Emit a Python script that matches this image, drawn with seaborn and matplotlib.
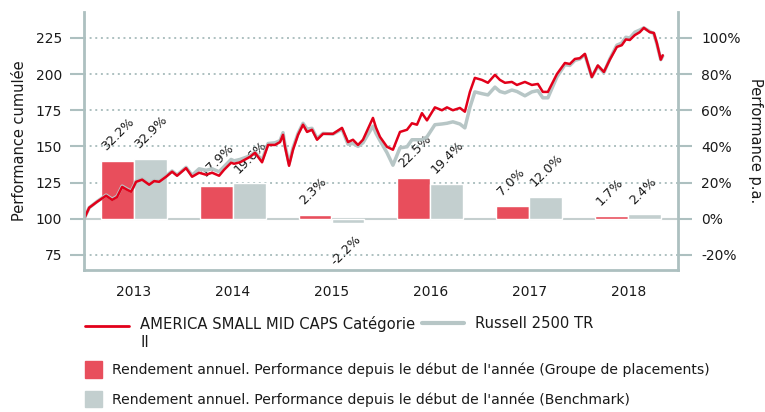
import numpy as np
import pandas as pd
import matplotlib
matplotlib.use('Agg')
import matplotlib.pyplot as plt
import seaborn as sns
from matplotlib.patches import Patch
from matplotlib.lines import Line2D
from matplotlib.legend_handler import HandlerLine2D
from matplotlib.ticker import FixedLocator, FuncFormatter, NullFormatter

# ---- data ----
years = [2013, 2014, 2015, 2016, 2017, 2018]
fund_annual = [32.2, 17.9, 2.3, 22.5, 7.0, 1.7]
bench_annual = [32.9, 19.6, -2.2, 19.4, 12.0, 2.4]

# time in decimal years
t = [2013.000, 2013.051, 2013.131, 2013.222, 2013.283, 2013.333, 2013.384, 2013.434,
     2013.475, 2013.525, 2013.586, 2013.657, 2013.707, 2013.758, 2013.828, 2013.889,
     2013.939, 2014.030, 2014.091, 2014.162, 2014.232, 2014.293, 2014.364, 2014.414,
     2014.485, 2014.515, 2014.576, 2014.677, 2014.727, 2014.798, 2014.859, 2014.929,
     2014.980, 2015.010, 2015.030, 2015.071, 2015.111, 2015.162, 2015.212, 2015.253,
     2015.303, 2015.354, 2015.414, 2015.515, 2015.606, 2015.667, 2015.717, 2015.768,
     2015.818, 2015.919, 2015.950, 2015.990, 2016.061, 2016.121, 2016.192, 2016.263,
     2016.313, 2016.364, 2016.414, 2016.465, 2016.545, 2016.616, 2016.667, 2016.727,
     2016.798, 2016.848, 2016.899, 2016.949, 2017.020, 2017.081, 2017.152, 2017.202,
     2017.253, 2017.323, 2017.374, 2017.455, 2017.525, 2017.586, 2017.636, 2017.687,
     2017.778, 2017.859, 2017.909, 2017.960, 2018.010, 2018.061, 2018.131, 2018.192,
     2018.253, 2018.313, 2018.384, 2018.434, 2018.475, 2018.515, 2018.566, 2018.616,
     2018.657, 2018.717, 2018.758, 2018.788, 2018.828, 2018.848]

fund_cum = [100.0, 107.6, 111.7, 115.9, 113.0, 115.0, 122.0, 120.0,
            118.6, 125.5, 127.0, 123.5, 126.0, 125.5, 129.0, 132.5,
            129.7, 135.0, 129.0, 131.8, 130.4, 131.8, 129.7, 133.8,
            138.7, 138.0, 139.0, 142.8, 145.6, 139.0, 151.0, 151.0,
            153.0, 158.0, 149.7, 136.6, 147.7, 158.0, 165.0, 160.0,
            161.5, 154.6, 158.7, 158.7, 162.8, 153.0, 154.6, 151.0,
            154.6, 169.7, 163.0, 156.6, 149.7, 147.7, 160.0, 161.5,
            166.0, 165.0, 173.0, 168.0, 177.0, 175.0, 177.0, 175.0,
            176.6, 174.0, 187.7, 197.4, 196.0, 194.0, 199.5, 196.0,
            194.0, 194.6, 192.5, 194.6, 192.5, 193.2, 187.7, 187.7,
            200.0, 207.7, 207.0, 210.5, 211.0, 214.0, 198.0, 206.0,
            201.5, 210.0, 218.8, 220.0, 224.0, 223.6, 227.0, 229.0,
            232.0, 229.0, 228.5, 221.6, 210.0, 213.0]

bench_cum = [100.0, 107.6, 111.9, 116.3, 113.5, 115.5, 122.5, 120.5,
             119.0, 126.0, 127.5, 124.0, 126.5, 126.0, 129.5, 133.0,
             130.2, 135.5, 130.0, 134.5, 133.5, 134.5, 132.5, 136.0,
             141.0, 140.0, 141.0, 143.5, 146.0, 140.5, 152.0, 152.5,
             154.0, 159.5, 151.0, 138.0, 149.0, 159.0, 166.0, 162.0,
             162.5, 155.5, 159.0, 158.5, 162.0, 151.5, 152.0, 150.0,
             152.5, 164.0, 159.0, 154.0, 145.6, 137.0, 149.0, 149.7,
             154.6, 154.6, 154.6, 156.6, 165.0, 165.5, 166.0, 167.0,
             165.5, 162.8, 177.0, 187.7, 186.5, 185.6, 191.0, 188.0,
             187.0, 189.0, 188.0, 185.0, 187.7, 188.6, 183.6, 183.6,
             198.0, 206.5, 206.0, 209.5, 210.5, 213.5, 198.0, 205.5,
             201.0, 210.5, 220.0, 221.5, 225.5, 225.0, 229.0, 230.5,
             232.0, 229.5, 228.0, 221.0, 210.0, 212.5]

fund_name = 'AMERICA SMALL MID CAPS Catégorie\nII'
bench_name = 'Russell 2500 TR'
bar_fund_name = "Rendement annuel. Performance depuis le début de l'année (Groupe de placements)"
bar_bench_name = "Rendement annuel. Performance depuis le début de l'année (Benchmark)"

RED_LINE = '#e2001a'
GREY_LINE = '#b7c6c6'
RED_BAR = '#e84e5c'
GREY_BAR = '#c3cfcf'
AXIS_C = '#adc0c0'
TEXT_C = '#1a1a1a'


class HandlerLineUp(HandlerLine2D):
    # legend line that sits on the first line of a two-line label
    def __init__(self, dy, **kw):
        super().__init__(**kw)
        self.dy = dy

    def create_artists(self, legend, orig_handle, xdescent, ydescent,
                       width, height, fontsize, trans):
        arts = super().create_artists(legend, orig_handle, xdescent, ydescent,
                                      width, height, fontsize, trans)
        for a in arts:
            a.set_ydata(np.asarray(a.get_ydata()) + self.dy)
        return arts


sns.set_style('white')
plt.rcParams['font.family'] = ['DejaVu Sans']
plt.rcParams['axes.unicode_minus'] = False

fig = plt.figure(figsize=(7.65, 4.12), dpi=100)
ax = fig.add_axes([0.110, 0.345, 0.776, 0.626])
ax2 = ax.twinx()

# ---- annual bars (right axis) ----
bars = pd.DataFrame({
    'mid': [y + 0.5 for y in years] * 2,
    'value': fund_annual + bench_annual,
    'series': ['fund'] * len(years) + ['bench'] * len(years),
})
sns.barplot(data=bars, x='mid', y='value', hue='series', native_scale=True,
            width=2 / 3, palette=[RED_BAR, GREY_BAR], saturation=1,
            errorbar=None, legend=False, ax=ax2, zorder=2)

for yr, fv, bv in zip(years, fund_annual, bench_annual):
    for left, v in [(yr + 0.5 - 1 / 3, fv), (yr + 0.5, bv)]:
        if v >= 0:
            ax2.annotate(f'{v:.1f}%', xy=(left, v), xytext=(5.5, 5.5),
                         textcoords='offset points', rotation=45,
                         rotation_mode='anchor', ha='left', va='bottom',
                         fontsize=9.2, color=TEXT_C, zorder=3)
        else:
            ax2.annotate(f'{v:.1f}%', xy=(left + 1 / 3, v), xytext=(-7, -7),
                         textcoords='offset points', rotation=45,
                         rotation_mode='anchor', ha='right', va='top',
                         fontsize=9.2, color=TEXT_C, zorder=3)

ax2.set_ylim(-28.3, 114.4)
ax2.yaxis.set_major_locator(FixedLocator([-20, 0, 20, 40, 60, 80, 100]))
ax2.yaxis.set_major_formatter(FuncFormatter(lambda v, p: f'{v:.0f}%'))
ax2.set_axisbelow(True)
ax2.yaxis.grid(True, linestyle=(0, (1, 1.9)), color=AXIS_C, lw=1.4)
ax2.axhline(0, color='#c5cfcf', lw=1.5, zorder=1)
ax2.set_ylabel('Performance p.a.', rotation=270, labelpad=16, fontsize=10.5, color=TEXT_C)
ax2.set_xlabel('')

# ---- cumulative lines (left axis, on top) ----
ax.set_zorder(ax2.get_zorder() + 1)
ax.patch.set_visible(False)
sns.lineplot(x=t, y=bench_cum, ax=ax, color=GREY_LINE, lw=2.5, sort=False)
sns.lineplot(x=t, y=fund_cum, ax=ax, color=RED_LINE, lw=1.8, sort=False)

ax.set_ylim(64.6, 243)
ax.yaxis.set_major_locator(FixedLocator([75, 100, 125, 150, 175, 200, 225]))
ax.set_ylabel('Performance cumulée', fontsize=10.5, color=TEXT_C, labelpad=6)

ax.set_xlim(2013, 2019)
ax.xaxis.set_major_locator(FixedLocator(list(range(2013, 2020))))
ax.xaxis.set_major_formatter(NullFormatter())
ax.xaxis.set_minor_locator(FixedLocator([y + 0.5 for y in years]))
ax.xaxis.set_minor_formatter(FuncFormatter(lambda v, p: f'{int(v)}'))
ax.tick_params(axis='x', which='major', direction='out', length=8, width=1.5, color=AXIS_C)
ax.tick_params(axis='x', which='minor', length=0, pad=11, labelsize=10, labelcolor=TEXT_C)
ax.tick_params(axis='y', direction='out', length=10, width=1.5, color=AXIS_C,
               labelsize=10, labelcolor=TEXT_C, pad=6)
ax2.tick_params(axis='y', direction='out', length=10, width=1.5, color=AXIS_C,
                labelsize=10, labelcolor=TEXT_C, pad=7)

for a in (ax, ax2):
    for s in a.spines.values():
        s.set_visible(False)
for s in ('left', 'bottom'):
    ax.spines[s].set_visible(True)
    ax.spines[s].set_color(AXIS_C)
    ax.spines[s].set_linewidth(2)
ax2.spines['right'].set_visible(True)
ax2.spines['right'].set_color(AXIS_C)
ax2.spines['right'].set_linewidth(2)

# ---- legends ----
fund_handle = Line2D([], [], color=RED_LINE, lw=2)
leg1 = fig.legend([fund_handle], [fund_name], loc='upper left',
                  bbox_to_anchor=(0.111, 0.232), frameon=False, borderpad=0,
                  borderaxespad=0, handlelength=3.0, handletextpad=0.75,
                  fontsize=10.6, labelcolor=TEXT_C,
                  handler_map={fund_handle: HandlerLineUp(5.5)})
bench_handle = Line2D([], [], color=GREY_LINE, lw=3)
leg1b = fig.legend([bench_handle], [bench_name], loc='upper left',
                   bbox_to_anchor=(0.552, 0.232), frameon=False, borderpad=0,
                   borderaxespad=0, handlelength=2.8, handletextpad=0.75,
                   fontsize=10.6, labelcolor=TEXT_C)
bar_handles = [Patch(color=RED_BAR), Patch(color=GREY_BAR)]
leg2 = fig.legend(bar_handles, [bar_fund_name, bar_bench_name], ncol=1,
                  loc='upper left', bbox_to_anchor=(0.111, 0.123),
                  frameon=False, borderpad=0, borderaxespad=0,
                  handlelength=1.25, handleheight=1.4, handletextpad=0.7,
                  labelspacing=0.95, fontsize=10.1, labelcolor=TEXT_C)

fig.savefig('out.png', dpi=100)
